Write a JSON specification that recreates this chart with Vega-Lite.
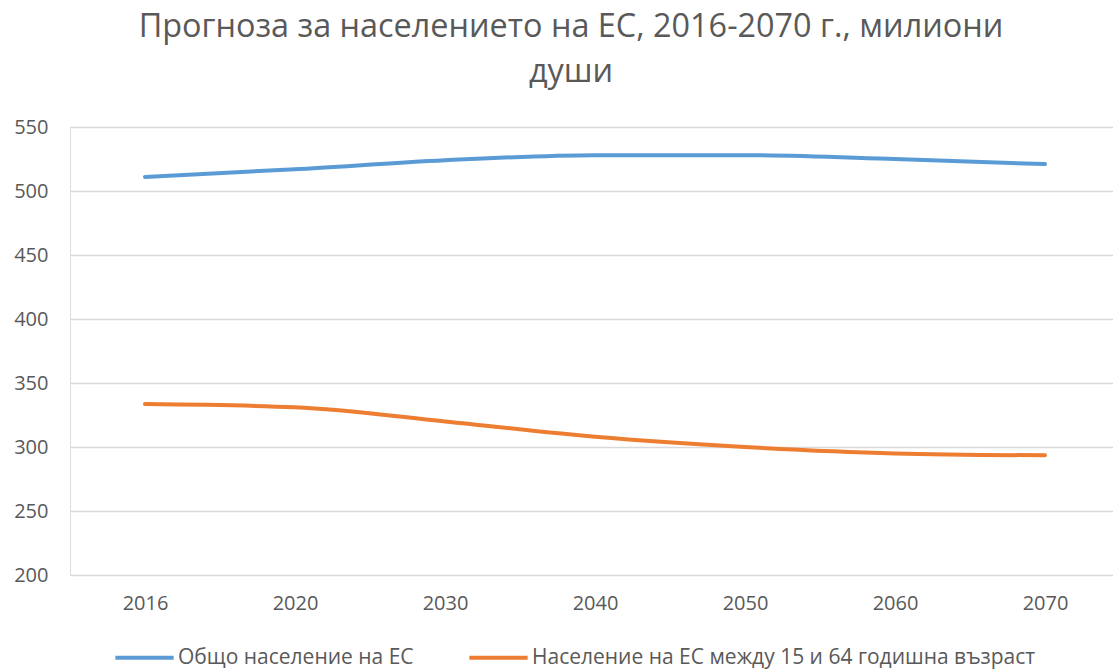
{
  "$schema": "https://vega.github.io/schema/vega-lite/v6.json",
  "autosize": {"type": "none"},
  "width": 1050,
  "height": 448,
  "padding": {"left": 70, "top": 127, "right": 0, "bottom": 95},
  "background": "white",
  "title": {
    "text": ["Прогноза за населението на ЕС, 2016-2070 г., милиони", "души"],
    "font": "Open Sans",
    "fontSize": 32.4,
    "fontWeight": "normal",
    "color": "#595959",
    "lineHeight": 45,
    "anchor": "middle",
    "frame": "group",
    "offset": 29,
    "dx": -24
  },
  "data": {
    "values": [
      {"year": "2016", "series": "Общо население на ЕС", "value": 511},
      {"year": "2020", "series": "Общо население на ЕС", "value": 517},
      {"year": "2030", "series": "Общо население на ЕС", "value": 524},
      {"year": "2040", "series": "Общо население на ЕС", "value": 528},
      {"year": "2050", "series": "Общо население на ЕС", "value": 528},
      {"year": "2060", "series": "Общо население на ЕС", "value": 525},
      {"year": "2070", "series": "Общо население на ЕС", "value": 521},
      {"year": "2016", "series": "Население на ЕС между 15 и 64 годишна възраст", "value": 333.5},
      {"year": "2020", "series": "Население на ЕС между 15 и 64 годишна възраст", "value": 331},
      {"year": "2030", "series": "Население на ЕС между 15 и 64 годишна възраст", "value": 320},
      {"year": "2040", "series": "Население на ЕС между 15 и 64 годишна възраст", "value": 308},
      {"year": "2050", "series": "Население на ЕС между 15 и 64 годишна възраст", "value": 300},
      {"year": "2060", "series": "Население на ЕС между 15 и 64 годишна възраст", "value": 295},
      {"year": "2070", "series": "Население на ЕС между 15 и 64 годишна възраст", "value": 293.5}
    ]
  },
  "mark": {"type": "line", "strokeWidth": 4, "interpolate": "monotone", "strokeCap": "round"},
  "encoding": {
    "x": {
      "field": "year",
      "type": "ordinal",
      "title": null,
      "scale": {"type": "point", "padding": 0.5},
      "axis": {
        "labelAngle": 0,
        "labelFont": "Open Sans",
        "labelFontSize": 20,
        "labelColor": "#595959",
        "labelPadding": 18,
        "domain": false,
        "ticks": false,
        "grid": false
      }
    },
    "y": {
      "field": "value",
      "type": "quantitative",
      "title": null,
      "scale": {"domain": [200, 550], "nice": false, "zero": false},
      "axis": {
        "values": [200, 250, 300, 350, 400, 450, 500, 550],
        "labelFont": "Open Sans",
        "labelFontSize": 20,
        "labelColor": "#595959",
        "labelPadding": 22,
        "domain": false,
        "ticks": false,
        "grid": true,
        "gridColor": "#d9d9d9",
        "gridWidth": 1.5
      }
    },
    "color": {
      "field": "series",
      "type": "nominal",
      "title": null,
      "sort": ["Общо население на ЕС", "Население на ЕС между 15 и 64 годишна възраст"],
      "scale": {
        "domain": ["Общо население на ЕС", "Население на ЕС между 15 и 64 годишна възраст"],
        "range": ["#5b9bd5", "#ed7d31"]
      },
      "legend": {
        "orient": "none",
        "legendX": 43,
        "legendY": 499,
        "direction": "horizontal",
        "symbolType": "stroke",
        "symbolSize": 3400,
        "symbolStrokeWidth": 4,
        "labelFont": "Open Sans",
        "labelFontSize": 21,
        "labelColor": "#595959",
        "labelOffset": 2,
        "columnPadding": 47,
        "labelLimit": 600
      }
    }
  }
}
